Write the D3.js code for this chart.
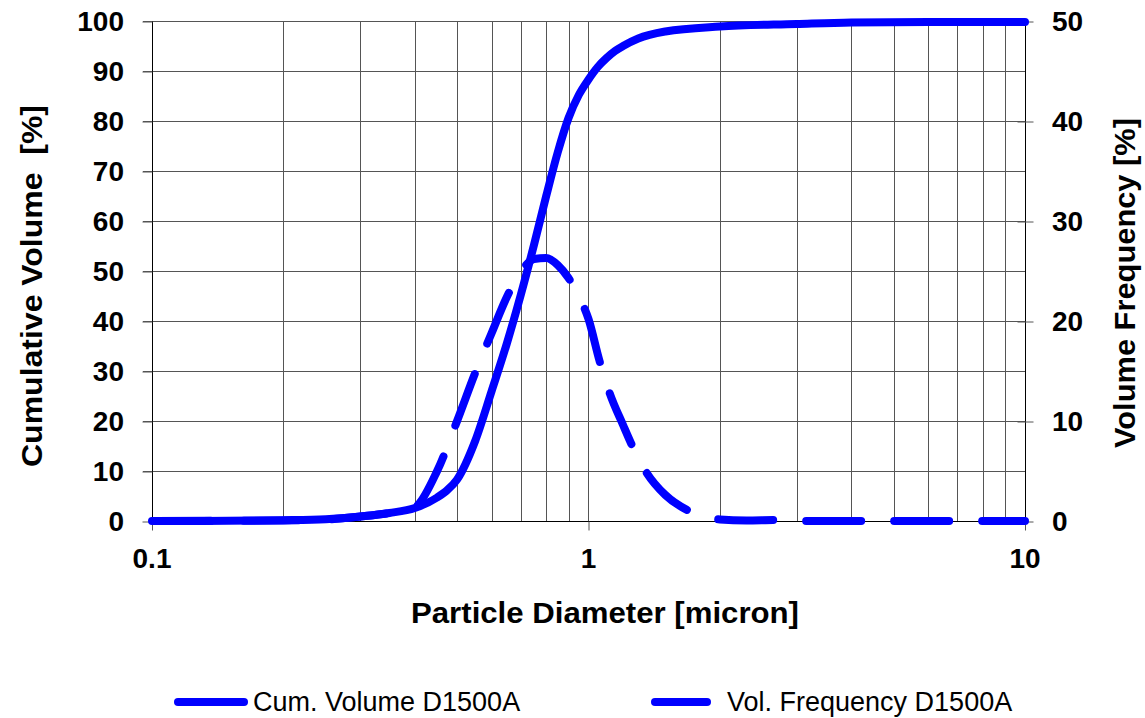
<!DOCTYPE html>
<html>
<head>
<meta charset="utf-8">
<script src="https://cdn.jsdelivr.net/npm/d3@7/dist/d3.min.js"></script>
<style>
  body { margin: 0; background: #fff; }
  svg { display: block; font-family: "Liberation Sans", Arial, sans-serif; }
</style>
</head>
<body>
<div id="chart"></div>
<script>
// particle diameter [micron]
var cumDiam = [0.1, 0.15, 0.2, 0.25, 0.3, 0.35, 0.4, 0.45, 0.475, 0.5, 0.55, 0.6, 0.65, 0.7, 0.75, 0.8, 0.85, 0.9, 0.95, 1.0, 1.05, 1.1, 1.15, 1.2, 1.3, 1.5, 2.0, 3.0, 4.0, 6.0, 10];
var cumVolume = [0, 0.05, 0.15, 0.35, 0.9, 1.6, 2.6, 4.7, 6.2, 8.3, 16, 26, 35.5, 45.3, 55.2, 65, 73.7, 80.6, 85.2, 88.3, 90.8, 92.6, 94.0, 95.0, 96.5, 97.9, 98.9, 99.4, 99.7, 99.8, 99.8];

var freqDiam = [0.1, 0.2, 0.25, 0.3, 0.35, 0.4, 0.45, 0.5, 0.55, 0.6, 0.65, 0.7, 0.75, 0.8, 0.85, 0.9, 0.95, 1.0, 1.06, 1.12, 1.2, 1.26, 1.36, 1.5, 1.7, 2.0, 2.3, 2.7, 3.2, 10];
var volFreq = [0, 0.05, 0.15, 0.45, 0.8, 1.4, 5.0, 10.0, 14.8, 18.8, 22.4, 24.9, 26.2, 26.3, 25.6, 24.3, 22.5, 20.2, 16, 12.7, 9.6, 7.5, 4.8, 2.6, 1.0, 0.15, 0.05, 0.1, 0, 0];

var xTicks = [0.1, 1, 10];
var xTickLabels = ["0.1", "1", "10"];
var leftTicks = [0, 10, 20, 30, 40, 50, 60, 70, 80, 90, 100];
var rightTicks = [0, 10, 20, 30, 40, 50];
var seriesNames = ["Cum. Volume D1500A", "Vol. Frequency D1500A"];

var width = 1145, height = 718;
var pLeft = 152, pRight = 1025, pTop = 21, pBottom = 521;
var blue = "#0000ff";

var svg = d3.select('#chart').append('svg')
  .attr('width', width)
  .attr('height', height);

var x = d3.scaleLog().domain([0.1, 10]).range([pLeft, pRight]);
var yL = d3.scaleLinear().domain([0, 100]).range([pBottom, pTop]);
var yR = d3.scaleLinear().domain([0, 50]).range([pBottom, pTop]);

// minor log grid lines
var gridX = [];
[0.1, 1].forEach(function(base) {
  for (var k = 2; k <= 9; k++) gridX.push(base * k);
});
gridX.push(1);

svg.append('g').selectAll('line').data(gridX).enter().append('line')
  .attr('x1', function(d) { return Math.round(x(d)) + 0.5; })
  .attr('x2', function(d) { return Math.round(x(d)) + 0.5; })
  .attr('y1', pTop).attr('y2', pBottom)
  .attr('stroke', '#555').attr('stroke-width', 1);

svg.append('g').selectAll('line').data(leftTicks.slice(1)).enter().append('line')
  .attr('x1', pLeft - 9).attr('x2', pRight)
  .attr('y1', function(d) { return Math.round(yL(d)) + 0.5; })
  .attr('y2', function(d) { return Math.round(yL(d)) + 0.5; })
  .attr('stroke', '#555').attr('stroke-width', 1);

// axes
var axL = svg.append('g').attr('transform', 'translate(' + (pLeft + 0.5) + ',0.5)')
  .call(d3.axisLeft(yL).tickValues(leftTicks).tickSize(10).tickFormat(''));
var axR = svg.append('g').attr('transform', 'translate(' + (pRight + 0.5) + ',0.5)')
  .call(d3.axisRight(yR).tickValues(rightTicks).tickSize(8).tickFormat(''));
axR.selectAll('.tick line').attr('x1', -8);
var axB = svg.append('g').attr('transform', 'translate(0,' + (pBottom + 0.5) + ')')
  .call(d3.axisBottom(x).tickValues(xTicks).tickSize(9).tickFormat(''));
[axL, axR, axB].forEach(function(a) {
  a.select('.domain').attr('stroke', '#000');
  a.selectAll('.tick line').attr('stroke', '#555');
});
axL.select('.domain').attr('d', 'M0,' + pTop + 'V' + pBottom);
axR.select('.domain').attr('d', 'M0,' + pTop + 'V' + pBottom);
axB.select('.domain').attr('d', 'M' + pLeft + ',0H' + pRight);

// tick labels
svg.append('g').selectAll('text').data(leftTicks).enter().append('text')
  .attr('x', 124).attr('y', function(d) { return yL(d); }).attr('dy', '0.36em')
  .attr('text-anchor', 'end').attr('font-size', 28).attr('font-weight', 'bold')
  .text(function(d) { return d; });
svg.append('g').selectAll('text').data(rightTicks).enter().append('text')
  .attr('x', 1052).attr('y', function(d) { return yR(d); }).attr('dy', '0.36em')
  .attr('font-size', 28).attr('font-weight', 'bold')
  .text(function(d) { return d; });
svg.append('g').selectAll('text').data(xTicks).enter().append('text')
  .attr('x', function(d) { return x(d); }).attr('y', 568)
  .attr('text-anchor', 'middle').attr('font-size', 28).attr('font-weight', 'bold')
  .text(function(d, i) { return xTickLabels[i]; });

// axis titles
svg.append('text').attr('x', 605).attr('y', 623).attr('text-anchor', 'middle')
  .attr('font-size', 29).attr('font-weight', 'bold')
  .attr('textLength', 388).attr('lengthAdjust', 'spacingAndGlyphs')
  .text('Particle Diameter [micron]');
svg.append('text').attr('transform', 'translate(42,286) rotate(-90)')
  .attr('text-anchor', 'middle').attr('font-size', 29).attr('font-weight', 'bold')
  .attr('textLength', 362).attr('lengthAdjust', 'spacingAndGlyphs')
  .style('white-space', 'pre')
  .text('Cumulative Volume  [%]');
svg.append('text').attr('transform', 'translate(1135,283) rotate(-90)')
  .attr('text-anchor', 'middle').attr('font-size', 29).attr('font-weight', 'bold')
  .attr('textLength', 330).attr('lengthAdjust', 'spacingAndGlyphs')
  .text('Volume Frequency [%]');

// curves
var cumLine = d3.line()
  .x(function(d) { return x(d[0]); })
  .y(function(d) { return yL(d[1]); })
  .curve(d3.curveMonotoneX);
var freqLine = d3.line()
  .x(function(d) { return x(d[0]); })
  .y(function(d) { return yR(d[1]); })
  .curve(d3.curveMonotoneX);

var freqPath = svg.append('path')
  .datum(d3.zip(freqDiam, volFreq))
  .attr('d', freqLine)
  .attr('fill', 'none').attr('stroke', blue).attr('stroke-width', 8)
  .attr('stroke-linecap', 'round').attr('stroke-linejoin', 'round')
  .attr('stroke-dasharray', '55,33');

// line up the dash pattern so a dash begins near x = 718
var node = freqPath.node();
var total = node.getTotalLength();
var lo = 0, hi = total;
for (var i = 0; i < 40; i++) {
  var mid = (lo + hi) / 2;
  if (node.getPointAtLength(mid).x < 718) lo = mid; else hi = mid;
}
freqPath.attr('stroke-dashoffset', (88 - lo % 88) % 88);

svg.append('path')
  .datum(d3.zip(cumDiam, cumVolume))
  .attr('d', cumLine)
  .attr('fill', 'none').attr('stroke', blue).attr('stroke-width', 8)
  .attr('stroke-linecap', 'round').attr('stroke-linejoin', 'round');

// legend
var legend = svg.append('g');
legend.append('line').attr('x1', 178).attr('x2', 244).attr('y1', 702).attr('y2', 702)
  .attr('stroke', blue).attr('stroke-width', 8).attr('stroke-linecap', 'round');
legend.append('line').attr('x1', 655).attr('x2', 707).attr('y1', 702).attr('y2', 702)
  .attr('stroke', blue).attr('stroke-width', 8).attr('stroke-linecap', 'round');
legend.append('text').attr('x', 253).attr('y', 711).attr('font-size', 27).text(seriesNames[0]);
legend.append('text').attr('x', 727).attr('y', 711).attr('font-size', 27).text(seriesNames[1]);
</script>
</body>
</html>
